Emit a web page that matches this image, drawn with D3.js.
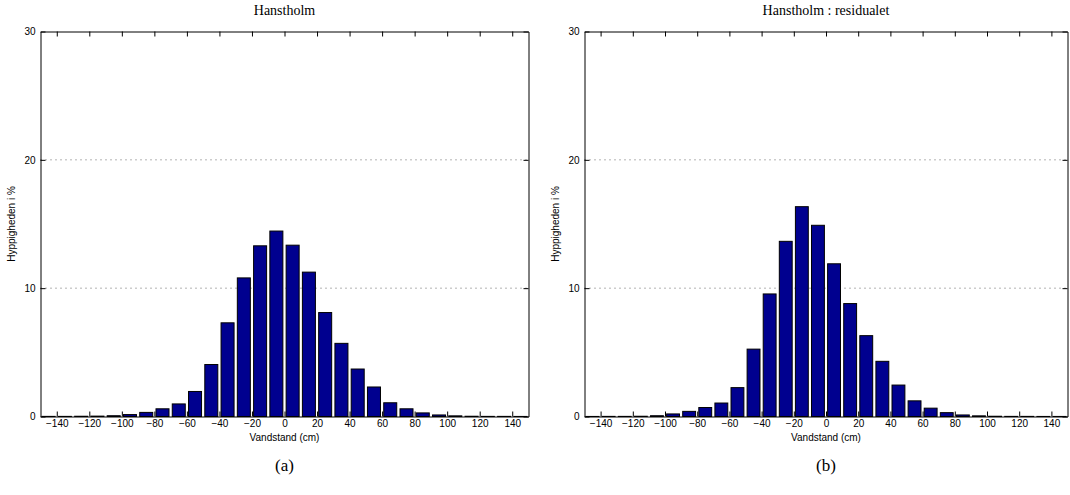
<!DOCTYPE html>
<html>
<head>
<meta charset="utf-8">
<script src="https://cdn.jsdelivr.net/npm/d3@7"></script>
<style>
body { margin: 0; background: #fff; }
</style>
</head>
<body>
<script>
// bin centres (cm) and frequencies (%)
const binCenters = [-145, -135, -125, -115, -105, -95, -85, -75, -65, -55, -45, -35, -25, -15, -5,
                    5, 15, 25, 35, 45, 55, 65, 75, 85, 95, 105, 115, 125, 135, 145];
const hanstholm = [0.01, 0.01, 0.02, 0.03, 0.06, 0.15, 0.32, 0.6, 0.98, 1.95, 4.05, 7.3, 10.8, 13.3, 14.45,
                   13.35, 11.25, 8.1, 5.7, 3.7, 2.3, 1.07, 0.6, 0.28, 0.12, 0.05, 0.02, 0.01, 0.01, 0.005];
const residual = [0.005, 0.01, 0.01, 0.02, 0.06, 0.2, 0.4, 0.7, 1.05, 2.25, 5.25, 9.55, 13.65, 16.35, 14.9,
                  11.9, 8.8, 6.3, 4.3, 2.45, 1.22, 0.65, 0.3, 0.12, 0.05, 0.02, 0.01, 0.01, 0.005, 0.005];
const xTicks = [-140, -120, -100, -80, -60, -40, -20, 0, 20, 40, 60, 80, 100, 120, 140];
const yTicks = [0, 10, 20, 30];
const gridTicks = [10, 20];
const titles = ["Hanstholm", "Hanstholm : residualet"];
const captions = ["(a)", "(b)"];
const xLabel = "Vandstand (cm)";
const yLabel = "Hyppigheden i %";

const width = 1070, height = 495;
const plotTop = 31.5, plotBottom = 416.5;
const sans = "'Liberation Sans', Arial, sans-serif";
const serif = "'Liberation Serif', 'DejaVu Serif', serif";
const fmt = d => d < 0 ? "\u2212" + Math.abs(d) : String(d);

const svg = d3.select("body").append("svg")
  .attr("width", width).attr("height", height);

function panel(left, right, values, title, caption) {
  let x = d3.scaleLinear().domain([-150, 150]).range([left, right]);
  let y = d3.scaleLinear().domain([0, 30]).range([plotBottom, plotTop]);
  let g = svg.append("g");

  // dotted grid
  g.selectAll(".grid").data(gridTicks).join("line")
    .attr("x1", left).attr("x2", right)
    .attr("y1", d => y(d)).attr("y2", d => y(d))
    .attr("stroke", "#666").attr("stroke-width", 1)
    .attr("stroke-dasharray", "1,4");

  // bars
  g.selectAll(".bar").data(binCenters).join("rect")
    .attr("x", d => x(d - 4))
    .attr("width", d => x(d + 4) - x(d - 4))
    .attr("y", (d, i) => y(values[i]))
    .attr("height", (d, i) => y(0) - y(values[i]))
    .attr("fill", "#00008f")
    .attr("stroke", "#000")
    .attr("stroke-width", 1);

  // axes with inward ticks
  let bx = g.append("g").attr("transform", `translate(0,${plotBottom})`)
    .call(d3.axisBottom(x).tickValues(xTicks).tickSize(-5).tickSizeOuter(0).tickPadding(3).tickFormat(fmt));
  let tx = g.append("g").attr("transform", `translate(0,${plotTop})`)
    .call(d3.axisTop(x).tickValues(xTicks).tickSize(-5).tickSizeOuter(0).tickFormat(""));
  let ly = g.append("g").attr("transform", `translate(${left},0)`)
    .call(d3.axisLeft(y).tickValues(yTicks).tickSize(-5).tickSizeOuter(0).tickPadding(5).tickFormat(d3.format("d")));
  let ry = g.append("g").attr("transform", `translate(${right},0)`)
    .call(d3.axisRight(y).tickValues(yTicks).tickSize(-5).tickSizeOuter(0).tickFormat(""));
  [bx, tx, ly, ry].forEach(a => {
    a.selectAll("path,line").attr("stroke", "#000").attr("stroke-width", 1);
    a.selectAll("text").attr("font-family", sans).attr("font-size", 10).attr("fill", "#000");
  });

  g.append("text")
    .attr("x", (left + right) / 2).attr("y", 441)
    .attr("text-anchor", "middle")
    .attr("font-family", sans).attr("font-size", 10)
    .text(xLabel);

  g.append("text")
    .attr("transform", `translate(${left - 26},${(plotTop + plotBottom) / 2}) rotate(-90)`)
    .attr("text-anchor", "middle")
    .attr("font-family", sans).attr("font-size", 10)
    .text(yLabel);

  g.append("text")
    .attr("x", (left + right) / 2).attr("y", 15)
    .attr("text-anchor", "middle")
    .attr("font-family", serif).attr("font-size", 14)
    .text(title);

  g.append("text")
    .attr("x", (left + right) / 2).attr("y", 471)
    .attr("text-anchor", "middle")
    .attr("font-family", serif).attr("font-size", 17)
    .text(caption);
}

panel(40.5, 528.5, hanstholm, titles[0], captions[0]);
panel(584.5, 1067.5, residual, titles[1], captions[1]);
</script>
</body>
</html>
